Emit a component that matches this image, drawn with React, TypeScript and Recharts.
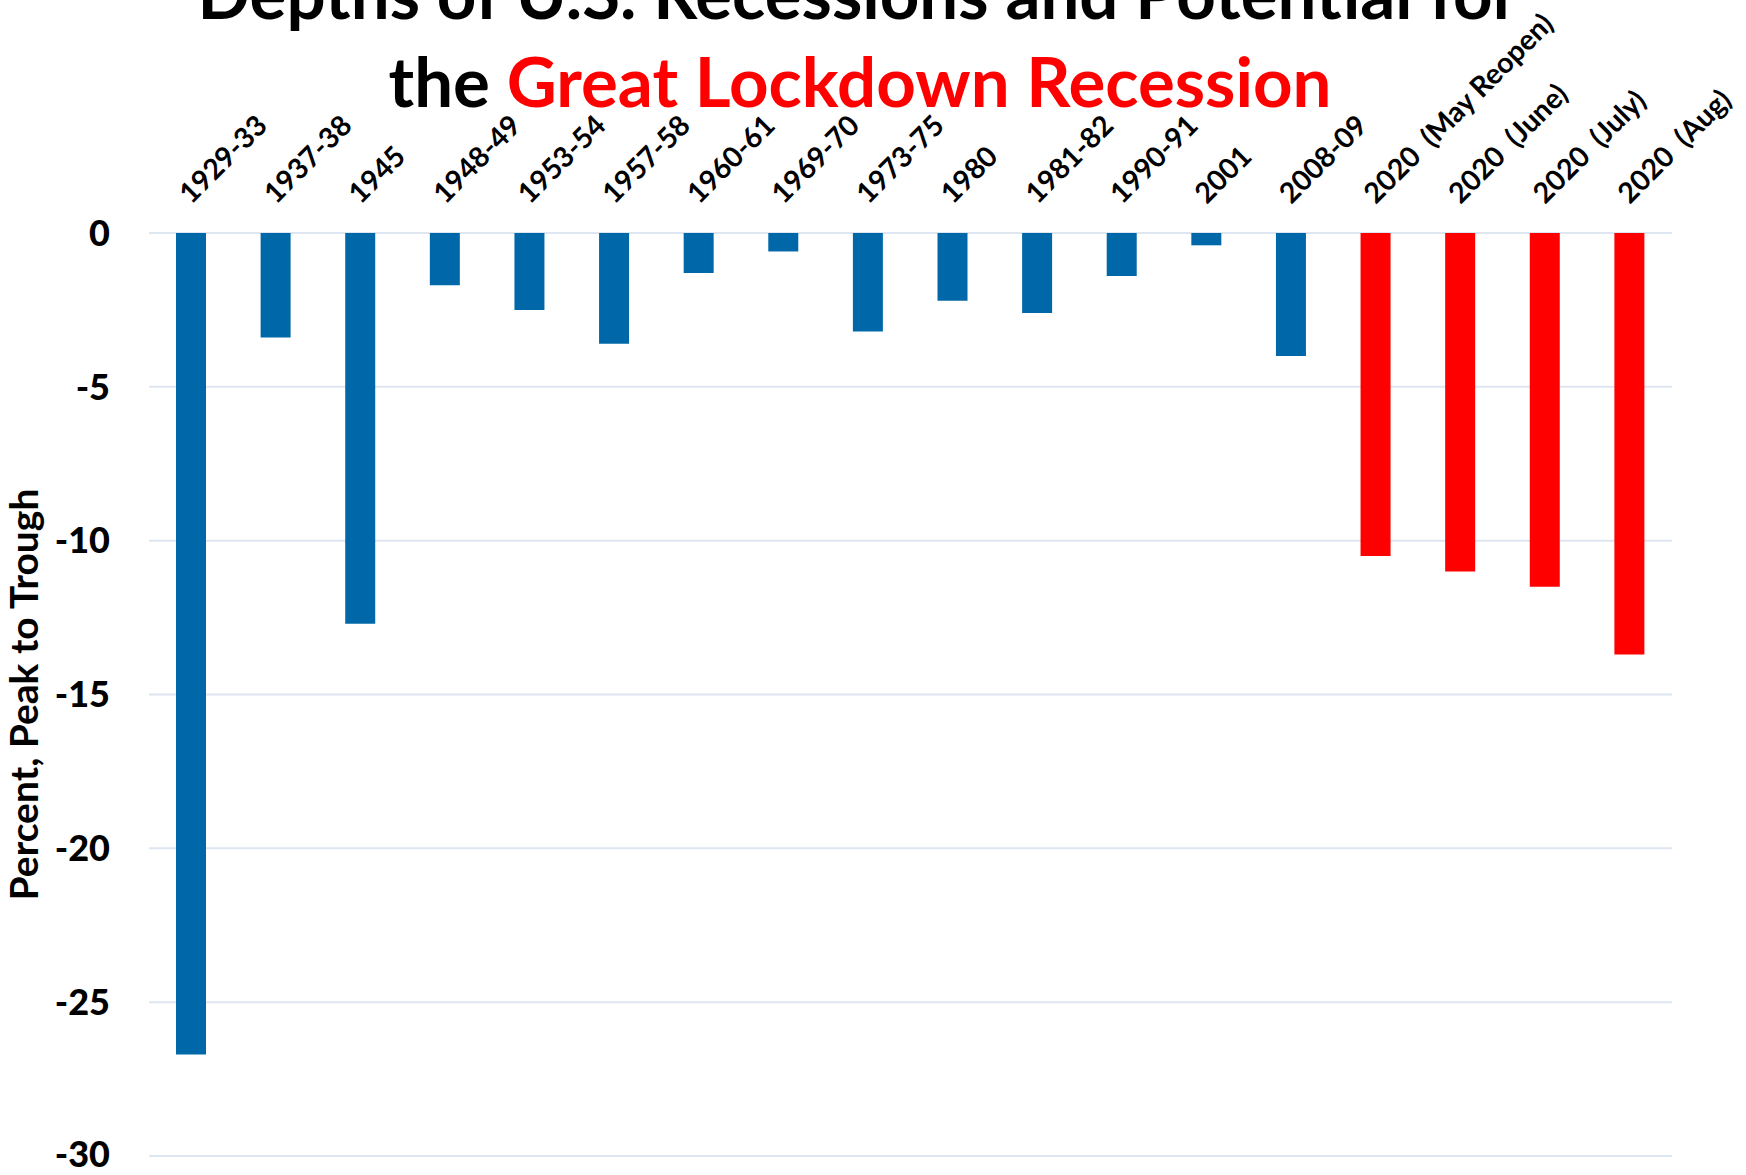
import { Bar, BarChart, CartesianGrid, Cell, XAxis, YAxis } from 'recharts'

const recessions = [
  '1929-33', '1937-38', '1945', '1948-49', '1953-54', '1957-58', '1960-61',
  '1969-70', '1973-75', '1980', '1981-82', '1990-91', '2001', '2008-09',
  '2020  (May Reopen)', '2020  (June)', '2020  (July)', '2020  (Aug)'
]
const depths = [
  -26.7, -3.4, -12.7, -1.7, -2.5, -3.6, -1.3, -0.6, -3.2, -2.2, -2.6, -1.4, -0.4, -4.0,
  -10.5, -11.0, -11.5, -13.7
]
const yTicks = [0, -5, -10, -15, -20, -25, -30]

const titleLine1 = 'Depths of U.S. Recessions and Potential for'
const titleLead = 'the '
const titleHighlight = 'Great Lockdown Recession'
const yLabel = 'Percent, Peak to Trough'

const FONT = 'Lato, "Open Sans", sans-serif'
const BLUE = '#0068a8'
const RED = '#ff0000'

const data = recessions.map((name, i) => ({ name, depth: depths[i] }))

function CategoryTick({ x, y, payload }: any) {
  return (
    <text
      transform={`translate(${x},${y}) rotate(-45)`}
      textAnchor="start"
      fontFamily={FONT}
      fontWeight={700}
      fontSize={28.5}
      fill="#000"
      style={{ whiteSpace: 'pre' }}
    >
      {payload.value}
    </text>
  )
}

export default function App() {
  return (
    <div style={{ position: 'absolute', left: 0, top: 0, width: 1746, height: 1175, background: '#fff', overflow: 'hidden' }}>
      <svg width={1746} height={130} style={{ position: 'absolute', left: 0, top: 0 }}>
        <text x={858} y={19} textAnchor="middle" fontFamily={FONT} fontWeight={700} fontSize={69} fill="#000">
          {titleLine1}
        </text>
        <text x={860} y={107} textAnchor="middle" fontFamily={FONT} fontWeight={700} fontSize={69} fill="#000">
          {titleLead}
          <tspan fill={RED}>{titleHighlight}</tspan>
        </text>
      </svg>
      <div style={{ position: 'absolute', left: 0, top: 0 }}>
        <BarChart
          width={1746}
          height={1175}
          data={data}
          margin={{ top: 193, right: 74, bottom: 19, left: 0 }}
          style={{ overflow: 'visible' }}
        >
          <CartesianGrid stroke="#dde6f1" strokeWidth={2} vertical={false} />
          <XAxis
            dataKey="name"
            orientation="top"
            height={40}
            axisLine={false}
            tickLine={false}
            tickSize={0}
            tickMargin={28}
            interval={0}
            tick={<CategoryTick />}
          />
          <YAxis
            domain={[-30, 0]}
            ticks={yTicks}
            width={149}
            axisLine={false}
            tickLine={false}
            tickSize={0}
            tickMargin={39}
            tick={{ fontFamily: FONT, fontWeight: 900, fontSize: 36, fill: '#000' }}
            label={{
              content: ({ viewBox }: any) => (
                <text
                  transform={`translate(${23},${viewBox.y + viewBox.height / 2}) rotate(-90)`}
                  textAnchor="middle"
                  dominantBaseline="central"
                  fontFamily={FONT}
                  fontWeight={700}
                  fontSize={39}
                  fill="#000"
                >
                  {yLabel}
                </text>
              )
            }}
          />
          <Bar dataKey="depth" barSize={30} isAnimationActive={false}>
            {data.map((d) => (
              <Cell key={d.name} fill={d.name.startsWith('2020') ? RED : BLUE} />
            ))}
          </Bar>
        </BarChart>
      </div>
    </div>
  )
}
